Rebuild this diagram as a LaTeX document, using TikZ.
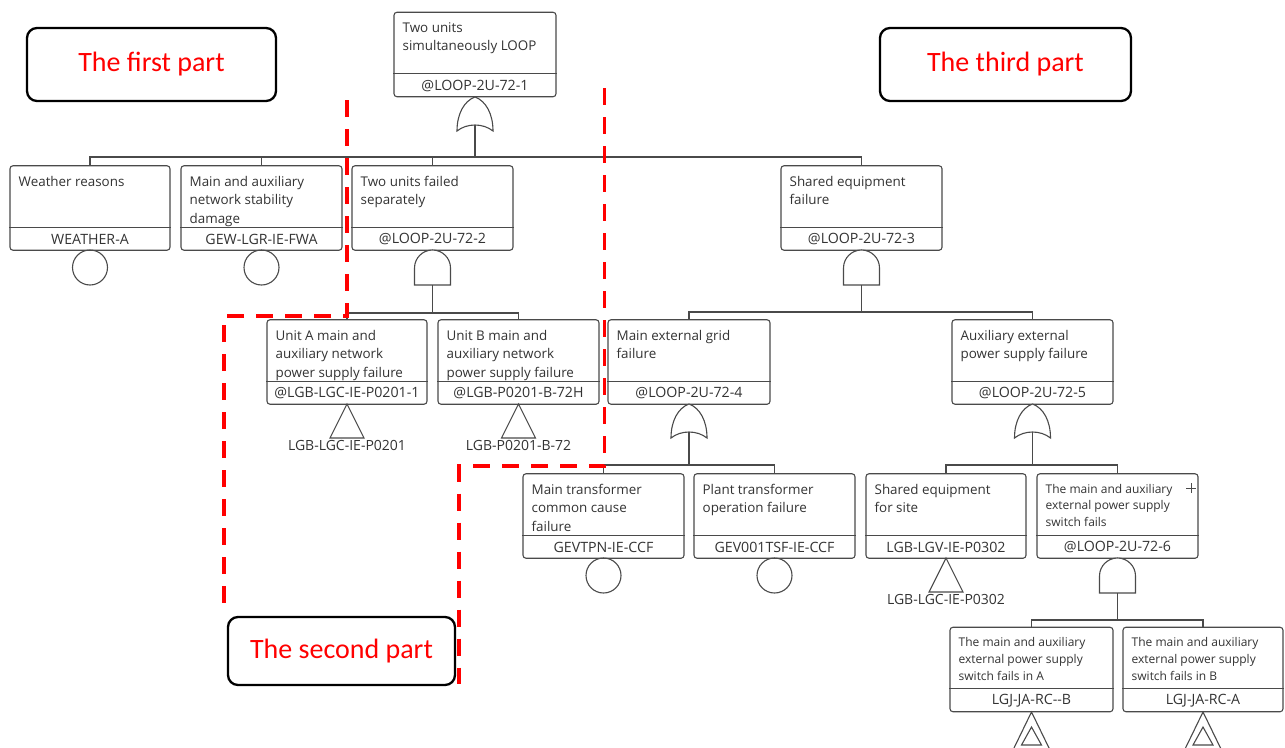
\documentclass[tikz,border=0pt]{standalone}
\usepackage{fontspec}
\setmainfont{Open Sans}
\newfontfamily\calib{Carlito}
\usetikzlibrary{calc}
\definecolor{ln}{HTML}{4A4A4A}
\definecolor{tx}{HTML}{333333}
\definecolor{rd}{HTML}{FF0000}
\tikzset{
  evbox/.style={draw=ln, line width=1.1pt, rounded corners=3pt, minimum height=84.5pt, inner sep=0pt, fill=white},
  desc/.style={inner sep=0pt, align=left, text=tx, font=\fontsize{13.4}{18.5}\selectfont},
  descS/.style={inner sep=0pt, align=left, text=tx, font=\fontsize{12}{16.8}\selectfont},
  idtxt/.style={inner sep=0pt, text=tx, font=\fontsize{14.2}{16}\selectfont},
  lbl/.style={inner sep=0pt, text=tx, font=\fontsize{14}{16}\selectfont},
  gate/.style={draw=ln, line width=1.1pt, fill=white},
  conn/.style={draw=ln, line width=1.1pt},
  basic/.style={circle, draw=ln, line width=1.1pt, minimum size=35pt, inner sep=0pt},
  partbox/.style={draw=black, line width=2.3pt, rounded corners=10pt, text=rd, font=\calib\fontsize{28}{32}\selectfont, fill=white, inner sep=0pt},
  reddash/.style={draw=rd, line width=3.8pt, dash pattern=on 17pt off 12pt}
}
% name, cx, cy, width, desc style, desc, id
\newcommand\evt[7]{%
  \node[evbox, minimum width=#4] (#1) at (#2,#3) {};
  \draw[ln, line width=1.1pt] ($(#1.south west)+(0,-23.5)$) -- ($(#1.south east)+(0,-23.5)$);
  \node[#5, anchor=north west] (#1-d) at ($(#1.north west)+(9,10.5)$) {#6};
  \node[idtxt] (#1-i) at ($(#1.south)+(0,-11.5)$) {#7};
}
% name, cx, ytop
\newcommand\orgate[3]{%
  \draw[gate] (#2-18,#3+34) .. controls (#2-18,#3+17) and (#2-11,#3+4) .. (#2,#3)
    .. controls (#2+11,#3+4) and (#2+18,#3+17) .. (#2+18,#3+34)
    .. controls (#2+8,#3+26) and (#2-8,#3+26) .. cycle;
  \coordinate (#1) at (#2,#3+28);
}
\newcommand\andgate[3]{%
  \draw[gate] (#2-18,#3+35) -- (#2-18,#3+18) arc[start angle=180, end angle=360, radius=18] -- (#2+18,#3+35) -- cycle;
  \coordinate (#1) at (#2,#3+35);
}
% name, apex x, apex y, label
\newcommand\xfer[4]{%
  \draw[gate, fill=none] (#2,#3) -- (#2-17,#3+34) -- (#2+17,#3+34) -- cycle;
  \node[lbl] (#1) at (#2,#3+41) {#4};
}
\begin{document}
\begin{tikzpicture}[x=1pt,y=-1pt]
\useasboundingbox (0,0) rectangle (1285,747);
\fill[white] (0,0) rectangle (1285,747);
\clip (0,0) rectangle (1285,747);

% ---- level 0
\evt{top}{475}{54.5}{162}{desc}{Two units\\simultaneously LOOP}{@LOOP-2U-72-1}
\orgate{g1}{475}{97}

% ---- level 1
\evt{weather}{90}{208}{160}{desc}{Weather reasons}{WEATHER-A}
\evt{gew}{261.5}{208}{161}{desc}{Main and auxiliary\\network stability\\damage}{GEW-LGR-IE-FWA}
\evt{two}{432.5}{208}{161}{desc}{Two units failed\\separately}{@LOOP-2U-72-2}
\evt{shared}{861.5}{208}{161}{desc}{Shared equipment\\failure}{@LOOP-2U-72-3}
\node[basic] (c1) at (90,267.5) {};
\node[basic] (c2) at (261.5,267.5) {};
\andgate{g2}{432.5}{250}
\andgate{g3}{861.5}{250}

\coordinate (bus1) at (475,157);
\draw[conn] (weather.north) |- (bus1) -| (shared.north);
\draw[conn] (gew.north) -- (gew.north |- bus1);
\draw[conn] (two.north) -- (two.north |- bus1);
\draw[conn] (g1) -- (bus1);

% ---- level 2
\evt{unitA}{347}{362}{160}{desc}{Unit A main and\\auxiliary network\\power supply failure}{@LGB-LGC-IE-P0201-1}
\evt{unitB}{518.5}{362}{161}{desc}{Unit B main and\\auxiliary network\\power supply failure}{@LGB-P0201-B-72H}
\evt{mainext}{689}{362}{162}{desc}{Main external grid\\failure}{@LOOP-2U-72-4}
\evt{aux}{1032.5}{362}{161}{desc}{Auxiliary external\\power supply failure}{@LOOP-2U-72-5}
\xfer{tA}{347}{404}{LGB-LGC-IE-P0201}
\xfer{tB}{518.5}{404}{LGB-P0201-B-72}
\orgate{g4}{689}{404}
\orgate{g5}{1032.5}{404}

\coordinate (bus2) at (432.5,313);
\draw[conn] (unitA.north) |- (bus2) -| (unitB.north);
\draw[conn] (g2) -- (bus2);
\coordinate (bus3) at (861.5,312);
\draw[conn] (mainext.north) |- (bus3) -| (aux.north);
\draw[conn] (g3) -- (bus3);

% ---- level 3
\evt{maintr}{603.5}{516}{161}{desc}{Main transformer\\common cause\\failure}{GEVTPN-IE-CCF}
\evt{plant}{774.5}{516}{161}{desc}{Plant transformer\\operation failure}{GEV001TSF-IE-CCF}
\evt{site}{946}{516}{160}{desc}{Shared equipment\\for site}{LGB-LGV-IE-P0302}
\evt{sw}{1117.5}{516}{161}{descS}{The main and auxiliary\\external power supply\\switch fails}{@LOOP-2U-72-6}
\node[basic] (c3) at (603.5,575.5) {};
\node[basic] (c4) at (774.5,575.5) {};
\xfer{tS}{946}{558}{LGB-LGC-IE-P0302}
\andgate{g6}{1117.5}{558}
\draw[ln, line width=0.7pt] (1186,488) -- (1196,488) (1191,483) -- (1191,493);

\coordinate (bus4) at (689,465);
\draw[conn] (maintr.north) |- (bus4) -| (plant.north);
\draw[conn] (g4) -- (bus4);
\coordinate (bus5) at (1032.5,465);
\draw[conn] (site.north) |- (bus5) -| (sw.north);
\draw[conn] (g5) -- (bus5);

% ---- level 4
\evt{swA}{1031.5}{669.5}{163}{descS}{The main and auxiliary\\external power supply\\switch fails in A}{LGJ-JA-RC-{}-B}
\evt{swB}{1203}{669.5}{160}{descS}{The main and auxiliary\\external power supply\\switch fails in B}{LGJ-JA-RC-A}
\coordinate (bus6) at (1117.5,620);
\draw[conn] (swA.north) |- (bus6) -| (swB.north);
\draw[conn] (g6) -- (bus6);
\foreach \n/\xx in {swA/1031.5, swB/1203}{
  \draw[gate, fill=none] (\xx,712) -- (\xx-18,749) -- (\xx+18,749) -- cycle;
  \draw[gate, fill=none] (\xx,727) -- (\xx-10,745) -- (\xx+10,745) -- cycle;
}

% ---- part labels
\node[partbox, minimum width=249pt, minimum height=73pt] (p1) at (151.5,64.5) {The first part};
\node[partbox, minimum width=251pt, minimum height=73pt] (p3) at (1005.5,64.5) {The third part};

% ---- red dashed separators
\coordinate (d1a) at (347,100);
\coordinate (d1b) at (347,316);
\coordinate (d1c) at (224,316);
\coordinate (d1d) at (224,614);
\draw[reddash] (d1a) -- (d1b) -- (d1c) -- (d1d);
\coordinate (d2a) at (604.5,88);
\coordinate (d2b) at (604.5,466);
\coordinate (d2c) at (459,466);
\coordinate (d2d) at (459,684);
\draw[reddash] (d2a) -- (d2b) -- (d2c) -- (d2d);

\node[partbox, minimum width=227pt, minimum height=68pt] (p2) at (341.5,651) {The second part};
\end{tikzpicture}
\end{document}
